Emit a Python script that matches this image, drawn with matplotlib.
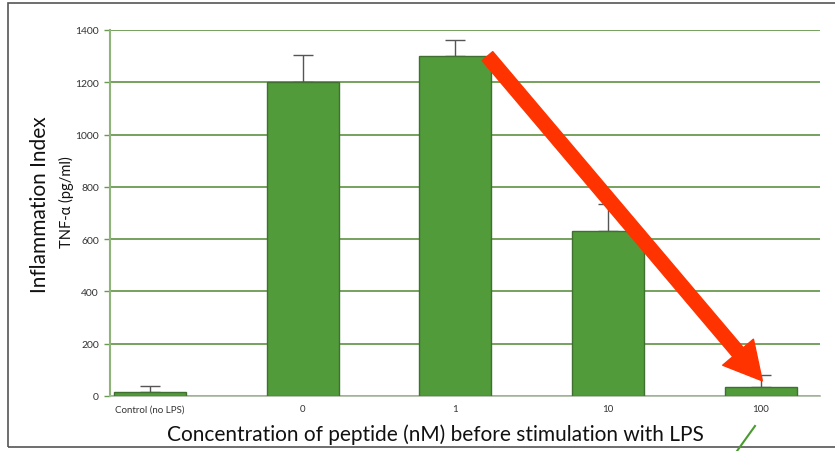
import matplotlib
matplotlib.use("Agg")
import matplotlib.pyplot as plt
from matplotlib.lines import Line2D
from matplotlib.patches import Rectangle

categories = ["Control (no LPS)", "0", "1", "10", "100"]
values = [15, 1200, 1300, 630, 35]
errors = [22, 105, 60, 105, 45]
yticks = [0, 200, 400, 600, 800, 1000, 1200, 1400]

plt.rcParams['font.family'] = ['Lato', 'DejaVu Sans']

fig = plt.figure(figsize=(8.35, 4.52), dpi=100)
ax = fig.add_axes([110/835, 1-397/452, 710/835, 366/452])

x = list(range(len(categories)))
ax.bar(x, values, width=0.47, color='#529b3a', edgecolor='#3f7030', linewidth=1.0, zorder=3)
ax.errorbar(x, values, yerr=[[0]*len(errors), errors], fmt='none', ecolor='#555555',
            elinewidth=1.0, capsize=7, capthick=1.0, zorder=2)

ax.set_xlim(-0.262, 4.388)
ax.set_ylim(0, 1400)
ax.set_yticks(yticks)
ax.set_yticklabels([str(t) for t in yticks], fontsize=7.5, color='#333333')
ax.set_xticks(x)
ax.set_xticklabels(categories, fontsize=7, color='#333333')
ax.tick_params(axis='x', length=0, pad=6)
ax.tick_params(axis='y', length=4, width=1, color='#6a9a50', pad=4)

ax.grid(axis='y', color='#6a9a50', linewidth=1.3, zorder=0)
ax.set_axisbelow(True)
for s in ['top', 'right']:
    ax.spines[s].set_visible(False)
ax.spines['left'].set_color('#8fb47a')
ax.spines['left'].set_linewidth(1.5)
ax.spines['bottom'].set_color('#a8b8a0')
ax.spines['bottom'].set_linewidth(1.2)

fig.text(435/835, 1-435/452, "Concentration of peptide (nM) before stimulation with LPS",
         fontsize=15, ha='center', va='center', color='#111111')
fig.text(40/835, 1-205/452, "Inflammation Index", rotation=90, fontsize=15,
         ha='center', va='center', color='#111111')
fig.text(66/835, 1-202/452, "TNF-\u03b1 (pg/ml)", rotation=90, fontsize=10.5,
         ha='center', va='center', color='#111111')

# red arrow annotation
ax.annotate("", xy=(4.01, 58), xytext=(2.21, 1300),
            arrowprops=dict(arrowstyle='simple,head_length=2.7,head_width=2.9,tail_width=1.0',
                            mutation_scale=10, color='#ff3300', shrinkA=0, shrinkB=0),
            zorder=5)

# slide frame and small green stroke
fig.add_artist(Rectangle((8/835, 1-448/452), 1.0, 444/452, transform=fig.transFigure,
                         fill=False, edgecolor='#555555', linewidth=1.2))
fig.add_artist(Line2D([755/835, 737/835], [1-427/452, 1-452/452], transform=fig.transFigure,
                      color='#4a9a30', linewidth=1.5))

fig.savefig("out.png", dpi=100)
